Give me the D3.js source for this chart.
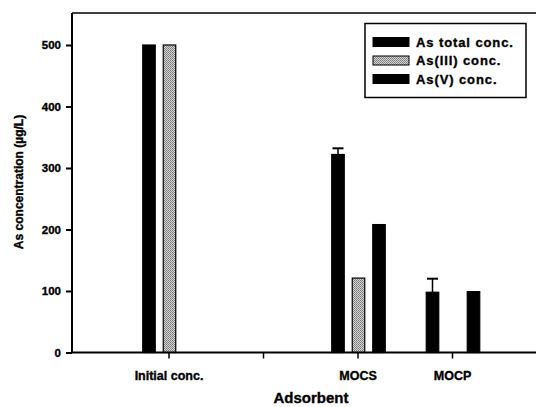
<!DOCTYPE html>
<html><head><meta charset="utf-8">
<script src="https://cdn.jsdelivr.net/npm/d3@7"></script>
<style>body{margin:0;background:#fff}svg{display:block}text{font-family:"Liberation Sans",Arial,sans-serif;font-weight:bold;fill:#000;stroke:#000;stroke-width:0.35px}</style>
</head><body><svg id="c" width="536" height="407"></svg>
<script>
const categories = ["Initial conc.", "", "MOCS", "MOCP"];
const seriesNames = ["As total conc.", "As(III) conc.", "As(V) conc."];
const asTotal = [500, null, 322, 98];
const asIII = [500, null, 121, 0];
const asV = [0, null, 208, 99];
const errTotal = [0, null, 10, 22];
const yTicks = [0, 100, 200, 300, 400, 500];

const svg = d3.select("#c");
const mLeft = 72, mTop = 13, mBottom = 352.5, mRight = 540;
const step = 94.5;
const x = d3.scaleBand().domain(categories).range([169 - step/2, 169 - step/2 + step*categories.length]);
const y = d3.scaleLinear().domain([0, 500]).range([mBottom, 45]);
const inner = d3.scalePoint().domain(seriesNames).range([-20, 21]);

const defs = svg.append("defs");
const pat = defs.append("pattern").attr("id","dots").attr("patternUnits","userSpaceOnUse").attr("width",2).attr("height",2);
pat.append("rect").attr("width",2).attr("height",2).attr("fill","#d4d4d4");
pat.append("rect").attr("width",1).attr("height",1).attr("fill","#7a7a7a");
pat.append("rect").attr("x",1).attr("y",1).attr("width",1).attr("height",1).attr("fill","#8a8a8a");

const fills = ["#000", "url(#dots)", "#000"];
const series = [asTotal, asIII, asV];

svg.append("line").attr("x1",mLeft).attr("x2",mRight).attr("y1",mTop).attr("y2",mTop).attr("stroke","#000").attr("stroke-width",1.5);

series.forEach((vals, si) => {
  categories.forEach((c, ci) => {
    const v = vals[ci];
    if (v === null || v <= 0) return;
    const cx = x(c) + x.bandwidth()/2 + inner(seriesNames[si]);
    const w = 12.5;
    svg.append("rect").attr("x", cx - w/2).attr("y", y(v)).attr("width", w).attr("height", mBottom - y(v))
      .attr("fill", fills[si]).attr("stroke","#000").attr("stroke-width",1.2);
    if (si === 0 && errTotal[ci] > 0) {
      const ye = y(v + errTotal[ci]);
      svg.append("line").attr("x1",cx).attr("x2",cx).attr("y1",y(v)).attr("y2",ye).attr("stroke","#000").attr("stroke-width",1.5);
      svg.append("line").attr("x1",cx-5.5).attr("x2",cx+5.5).attr("y1",ye).attr("y2",ye).attr("stroke","#000").attr("stroke-width",2);
    }
  });
});

const ya = svg.append("g").attr("transform",`translate(${mLeft},0)`)
  .call(d3.axisLeft(y).tickValues(yTicks).tickSize(6).tickPadding(5));
ya.select(".domain").attr("d", `M0,${mTop}V${mBottom}`).attr("stroke-width",2);
ya.selectAll(".tick line").attr("stroke-width",2);
ya.selectAll("text").style("font-size","11.5px").style("font-family","Liberation Sans, Arial, sans-serif").style("font-weight","bold");

const xa = svg.append("g").attr("transform",`translate(0,${mBottom})`)
  .call(d3.axisBottom(x).tickSize(6).tickPadding(13));
xa.select(".domain").attr("d", `M${mLeft},0H${mRight}`).attr("stroke-width",2);
xa.selectAll(".tick line").attr("stroke-width",1.5);
xa.selectAll("text").style("font-size","12.5px").style("font-family","Liberation Sans, Arial, sans-serif").style("font-weight","bold");

svg.append("text").attr("transform","translate(23,182) rotate(-90)").attr("text-anchor","middle").style("font-size","12px").text("As concentration (µg/L)");
svg.append("text").attr("x",311).attr("y",403).attr("text-anchor","middle").style("font-size","15px").text("Adsorbent");

const lg = svg.append("g");
lg.append("rect").attr("x",365).attr("y",23.5).attr("width",161).attr("height",74).attr("fill","#fff").attr("stroke","#000").attr("stroke-width",1.5);
seriesNames.forEach((n, i) => {
  const ly = 42 + i*18.5;
  lg.append("rect").attr("x",373).attr("y",ly-4.5).attr("width",36).attr("height",9).attr("fill",fills[i]).attr("stroke","#000").attr("stroke-width",1);
  lg.append("text").attr("x",416).attr("y",ly+4.5).style("font-size","13px").style("letter-spacing","0.9px").text(n);
});
</script></body></html>
